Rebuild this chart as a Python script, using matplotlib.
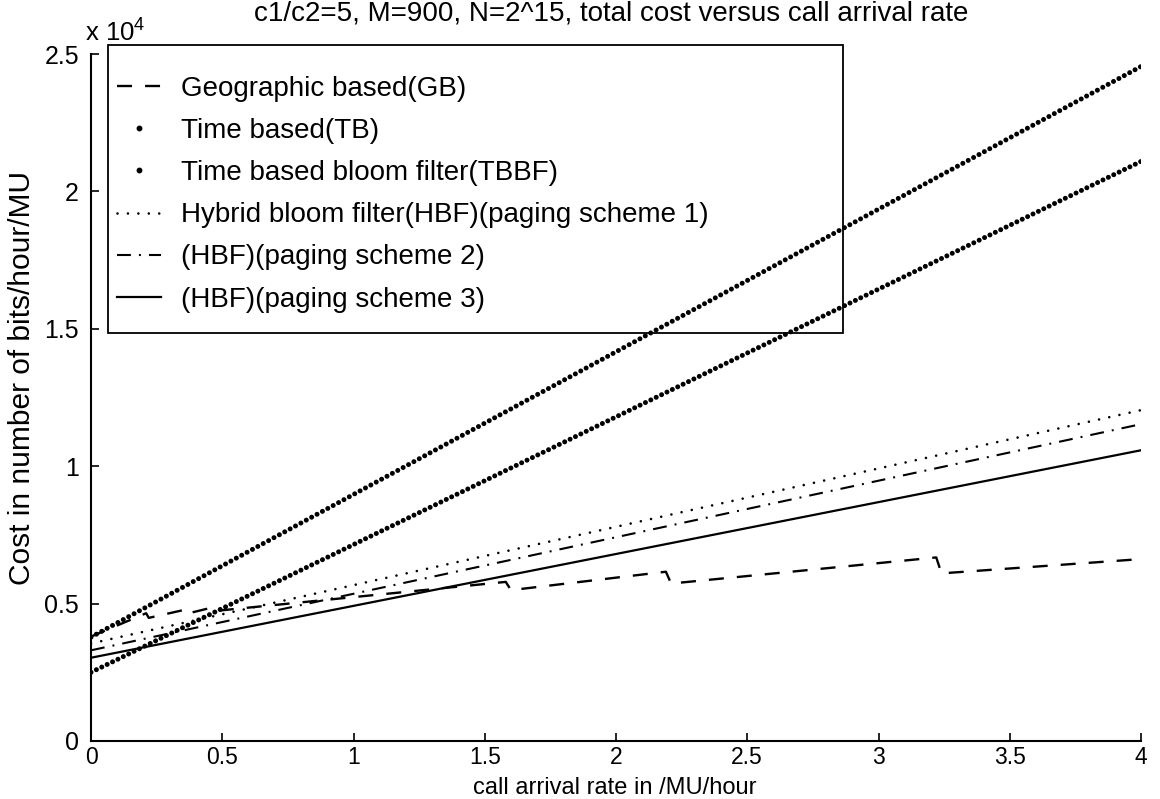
import matplotlib
matplotlib.use("Agg")
import matplotlib.pyplot as plt
from matplotlib.lines import Line2D
from matplotlib.patches import Rectangle
from matplotlib.ticker import FuncFormatter, FixedLocator

plt.rcParams['font.family'] = ['Liberation Sans', 'DejaVu Sans']
plt.rcParams['mathtext.fontset'] = 'custom'
plt.rcParams['mathtext.rm'] = 'Liberation Sans'
plt.rcParams['mathtext.default'] = 'regular'
plt.rcParams['lines.scale_dashes'] = False

# ---- data ----
x_ends = [0.0, 4.0]
tb = [3780, 24545]          # Time based (TB)
tbbf = [2500, 21090]        # Time based bloom filter (TBBF)
hbf1 = [3550, 12040]        # HBF paging scheme 1
hbf2 = [3300, 11530]        # HBF paging scheme 2
hbf3 = [3030, 10580]        # HBF paging scheme 3

gb_x = [0.00, 0.21, 0.22, 0.35, 0.36, 0.45, 0.46, 1.58, 1.60, 2.19, 2.21, 3.22, 3.24, 4.00]
gb_y = [3800, 4650, 4480, 4760, 4620, 4830, 4720, 5790, 5490, 6160, 5730, 6680, 6100, 6620]

x_ticks = [0, 0.5, 1, 1.5, 2, 2.5, 3, 3.5, 4]
y_ticks = [0, 5000, 10000, 15000, 20000, 25000]

labels = ["Geographic based(GB)", "Time based(TB)", "Time based bloom filter(TBBF)",
          "Hybrid bloom filter(HBF)(paging scheme 1)", "(HBF)(paging scheme 2)",
          "(HBF)(paging scheme 3)"]
title = "c1/c2=5, M=900, N=2^15, total cost versus call arrival rate"
xlabel = "call arrival rate in /MU/hour"
ylabel = "Cost in number of bits/hour/MU"

# ---- figure ----
W, H = 1160, 799
fig = plt.figure(figsize=(W / 100, H / 100), dpi=100)
ax = fig.add_axes([91 / W, 1 - 741 / H, 1050 / W, 687 / H])

def ax_x(px):
    return (px - 91) / 1050

def ax_y(py):
    return (741 - py) / 687

k = 'black'
l_gb, = ax.plot(gb_x, gb_y, color=k, lw=1.7, dashes=(10.8, 9.4), dash_capstyle='butt')
l_tb, = ax.plot(x_ends, tb, color=k, lw=3.6, dashes=(0.01, 4.4), dash_capstyle='round')
l_tbbf, = ax.plot(x_ends, tbbf, color=k, lw=3.6, dashes=(0.01, 4.3), dash_capstyle='round')
l_h1, = ax.plot(x_ends, hbf1, color=k, lw=1.9, dashes=(0.01, 7.5), dash_capstyle='round')
l_h2, = ax.plot(x_ends, hbf2, color=k, lw=1.5, dashes=(10.0, 5.8, 1.4, 5.8), dash_capstyle='butt')
l_h3, = ax.plot(x_ends, hbf3, color=k, lw=1.6)

ax.set_xlim(0, 4)
ax.set_ylim(0, 25000)
ax.xaxis.set_major_locator(FixedLocator(x_ticks))
ax.yaxis.set_major_locator(FixedLocator(y_ticks))
ax.xaxis.set_major_formatter(FuncFormatter(lambda v, p: f"{v:g}"))
ax.yaxis.set_major_formatter(FuncFormatter(lambda v, p: f"{v / 1e4:g}"))

for s in ['top', 'right']:
    ax.spines[s].set_visible(False)
for s in ['left', 'bottom']:
    ax.spines[s].set_linewidth(1.5)
ax.tick_params(axis='both', direction='in', length=5.8, width=1.2, labelsize=16.5)
ax.tick_params(axis='y', labelsize=18, pad=8.6)
ax.tick_params(axis='x', pad=3.5)

ax.annotate(r'x 10$^{4}$', xy=(0, 1), xycoords='axes fraction', xytext=(-4.5, 5),
            textcoords='offset points', ha='left', va='bottom', fontsize=18.5)

fig.text(611 / W, 1 - 13 / H, title, ha='center', va='center', fontsize=20)
ax.set_xlabel(xlabel, fontsize=17)
ax.xaxis.set_label_coords(0.499, ax_y(798.5))
ax.xaxis.label.set_va('bottom')
ax.set_ylabel(ylabel, fontsize=21.5)
ax.yaxis.set_label_coords(ax_x(22), ax_y(378))
ax.yaxis.label.set_va('center')

# legend box (MATLAB-style, lines show through)
ax.add_patch(Rectangle((ax_x(108), ax_y(333)), ax_x(843) - ax_x(108), ax_y(45) - ax_y(333),
                       transform=ax.transAxes, fill=False, edgecolor=k, lw=1.3,
                       clip_on=False, zorder=1))

p_tb = Line2D([], [], ls='none', marker='o', ms=3.2, color=k)
p_tbbf = Line2D([], [], ls='none', marker='o', ms=3.2, color=k)
handles = [l_gb, p_tb, p_tbbf, l_h1, l_h2, l_h3]
leg = ax.legend(handles, labels, loc='upper left',
                bbox_to_anchor=(ax_x(117), ax_y(76)),
                borderaxespad=0, borderpad=0, fontsize=20, handlelength=1.6,
                handletextpad=0.7, labelspacing=0.58, frameon=False, numpoints=1)
leg.set_zorder(1)

fig.savefig("out.png", dpi=100)
